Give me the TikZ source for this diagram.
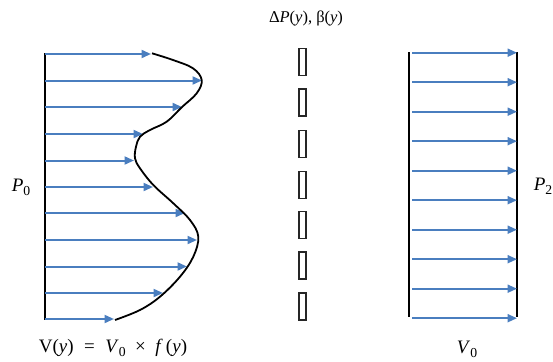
\documentclass[tikz,border=0pt]{standalone}
\usepackage{fontspec}
\setmainfont{Liberation Serif}
\usepackage{graphicx}
\usetikzlibrary{arrows.meta}
\definecolor{FlowBlue}{HTML}{4A7EBF}
\newcommand{\lowidx}[1]{\raisebox{-0.22em}{\scalebox{0.72}{#1}}}
\tikzset{
  wall/.style={draw=black, line width=2pt},
  flow/.style={-{Triangle[length=9.5pt, width=8pt]}, line width=2pt, draw=FlowBlue},
  profile/.style={draw=black, line width=1.8pt},
  gapbox/.style={draw=black!85, line width=1.1pt, minimum width=7pt,
    minimum height=27pt, inner sep=0pt},
  lbl/.style={font=\fontsize{19}{21}\selectfont, inner sep=0pt},
  toplbl/.style={font=\fontsize{16.5}{19}\selectfont, inner sep=0pt},
}

\begin{document}
\begin{tikzpicture}[x=1pt, y=-1pt]
  \useasboundingbox (0,0) rectangle (553,361);

  % inlet: varying velocity profile
  \coordinate (inTop) at (45,53);
  \coordinate (inBot) at (45,320);
  \draw[wall] (inTop) -- (inBot);
  \foreach \y/\tip in {54/151, 80.5/202, 107/182, 134/143, 160.5/134,
                       187/153, 213/185, 240/197, 266.5/187, 293/163, 319/114}
    \draw[flow] (45,\y) -- (\tip,\y);
  \draw[profile] plot[smooth, tension=0.6] coordinates {
    (152,53.3) (173,60) (193,68.3) (201.7,80) (196.7,93.3) (181.7,107.3)
    (166.7,121.7) (150,130) (140,136.7) (136,146.7) (135,158.3) (140,168.3)
    (153.3,185) (173.3,203.3) (190,220) (198.3,236.7) (193.3,256.7)
    (180,276.7) (160,296.7) (140,310) (115,320)};

  % gaps along the middle
  \foreach \y [count=\i] in {62, 102.5, 144, 185, 225, 265.5, 306.5}
    \node[gapbox] (gap\i) at (302.5,\y) {};

  % outlet: uniform profile
  \coordinate (outTopL) at (409,52);
  \coordinate (outBotL) at (409,317);
  \coordinate (outTopR) at (517,52);
  \coordinate (outBotR) at (517,317);
  \draw[wall] (outTopL) -- (outBotL);
  \draw[wall] (outTopR) -- (outBotR);
  \foreach \i in {0,...,9}
    \draw[flow] (412,52.7+29.5*\i) -- (517,52.7+29.5*\i);

  % labels
  \node[lbl] (pzero) at (21,187) {\textit{P}\lowidx{0}};
  \node[lbl] (ptwo) at (543,186) {\textit{P}\lowidx{2}};
  \node[toplbl] (jump) at (306,18) {Δ\textit{P}(\textit{y}), β(\textit{y})};
  \node[lbl] (vprofile) at (113,348)
    {V(\textit{y})\hspace{0.55em}=\hspace{0.55em}\textit{V}\lowidx{0}\hspace{0.5em}×\hspace{0.5em}\textit{f}\,(\textit{y})};
  \node[lbl] (vzero) at (467,349) {\textit{V}\lowidx{0}};
\end{tikzpicture}
\end{document}
